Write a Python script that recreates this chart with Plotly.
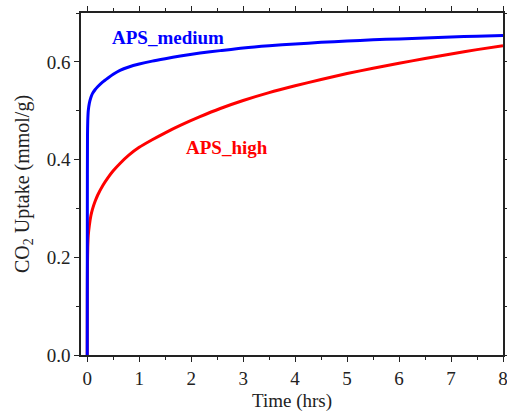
import plotly.graph_objects as go

# Data
time_medium = [0, 0.002, 0.005, 0.01, 0.02, 0.04, 0.07, 0.1, 0.15, 0.2, 0.3, 0.4, 0.5, 0.63, 0.8, 1.0,
               1.25, 1.5, 1.79, 2.17, 2.56, 3.0, 3.5, 4.0, 4.5, 5.0, 5.5, 6.0, 6.5, 7.0, 7.5, 8.0]
uptake_medium = [0, 0.30, 0.45, 0.48, 0.50, 0.515, 0.527, 0.535, 0.543, 0.549, 0.559, 0.567, 0.5745, 0.5825,
                 0.5895, 0.5955, 0.6015, 0.6065, 0.612, 0.618, 0.623, 0.6285, 0.633, 0.6365, 0.640, 0.6425,
                 0.645, 0.647, 0.649, 0.651, 0.6525, 0.654]

time_high = [0, 0.002, 0.005, 0.01, 0.02, 0.04, 0.07, 0.1, 0.15, 0.2, 0.3, 0.4, 0.5, 0.63, 0.8, 1.0,
             1.25, 1.5, 1.79, 2.17, 2.56, 3.0, 3.5, 4.0, 4.5, 5.0, 5.5, 6.0, 6.5, 7.0, 7.5, 8.0]
uptake_high = [0, 0.12, 0.19, 0.22, 0.245, 0.265, 0.285, 0.298, 0.314, 0.327, 0.347, 0.363, 0.377, 0.392,
               0.409, 0.425, 0.4405, 0.4548, 0.4699, 0.4877, 0.5045, 0.5208, 0.537, 0.551, 0.564, 0.576,
               0.587, 0.597, 0.607, 0.616, 0.625, 0.633]

x_ticks = [0, 1, 2, 3, 4, 5, 6, 7, 8]
y_ticks = [0.0, 0.2, 0.4, 0.6]
y_tick_labels = ["0.0", "0.2", "0.4", "0.6"]

FONT = "Liberation Serif, Times New Roman, serif"

fig = go.Figure()
fig.add_trace(go.Scatter(x=time_high, y=uptake_high, mode="lines",
                         line=dict(color="#ff0000", width=3, shape="spline", smoothing=0.6), name="APS_high"))
fig.add_trace(go.Scatter(x=time_medium, y=uptake_medium, mode="lines",
                         line=dict(color="#0000ff", width=3, shape="spline", smoothing=0.6), name="APS_medium"))

fig.add_annotation(x=0.44, y=0.649, text="<b>APS_medium</b>", showarrow=False,
                   xanchor="left", yanchor="middle",
                   font=dict(family=FONT, size=19, color="#0000ff"))
fig.add_annotation(x=1.87, y=0.424, text="<b>APS_high</b>", showarrow=False,
                   xanchor="left", yanchor="middle",
                   font=dict(family=FONT, size=19, color="#ff0000"))

axis_common = dict(
    showgrid=False, zeroline=False, automargin=False, ticklabeloverflow="allow",
    showline=True, linecolor="#222222", linewidth=1.5, mirror="ticks",
    ticks="outside", ticklen=5, tickwidth=1.2, tickcolor="#222222",
    tickfont=dict(family=FONT, size=19, color="#222222"),
)

fig.update_xaxes(range=[-0.12, 8], tickvals=x_ticks,
                 minor=dict(ticks="outside", ticklen=3, dtick=0.5, tickcolor="#222222", tickwidth=1.2),
                 title=dict(text="Time (hrs)", font=dict(family=FONT, size=19, color="#222222"), standoff=8),
                 **axis_common)
fig.update_yaxes(range=[0, 0.7], tickvals=y_ticks, ticktext=y_tick_labels,
                 minor=dict(ticks="outside", ticklen=3, dtick=0.1, tickcolor="#222222", tickwidth=1.2),
                 title=dict(text="CO<sub>2</sub> Uptake (mmol/g)", font=dict(family=FONT, size=20, color="#222222"), standoff=12),
                 **axis_common)

fig.update_layout(
    width=507, height=412,
    margin=dict(l=81, r=4, t=13, b=57),
    plot_bgcolor="white", paper_bgcolor="white",
    showlegend=False,
)

fig.write_html("out.html", config={"displayModeBar": False},
               post_script="document.body.style.margin='0';document.body.style.padding='0';")
